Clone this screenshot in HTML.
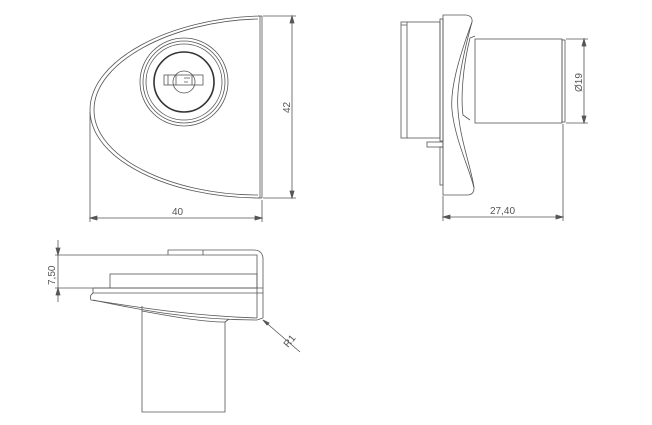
<!DOCTYPE html>
<html><head><meta charset="utf-8"><style>
html,body{margin:0;padding:0;background:#fff;}
svg{display:block}
text{font-family:"Liberation Sans",sans-serif;font-size:10px;fill:#555}
</style></head><body>
<svg width="652" height="425" viewBox="0 0 652 425" xmlns="http://www.w3.org/2000/svg">
<g fill="none" stroke="#555" stroke-width="0.8">
<!-- FRONT VIEW -->
<path d="M262,16 L262,198"/>
<path d="M260,16 L260,198"/>
<path d="M260,16 C170,18 90,60 90,110 C90,160 170,198 260,198"/>
<path d="M258,19 C172,21 94,62 94,110 C94,158 172,195 258,195"/>
<path d="M258,16 L262,16 M258,198 L262,198"/>
<circle cx="184" cy="82" r="44"/>
<circle cx="184" cy="82" r="41"/>
<circle cx="184" cy="82" r="38"/>
<circle cx="184" cy="82" r="30" stroke-width="1.6" stroke="#333"/>
<circle cx="184" cy="82" r="11"/>
<rect x="164" y="75" width="39" height="10"/>
<path d="M168,75 V85 M176,75 V85 M192,75 V85 M184,78 H190 M184,82 H188"/>
<!-- dims 42 / 40 -->
<path d="M263,16 H296 M263,198 H296 M292,16 V198"/>
<path d="M292,16 l-2,7 h4z M292,198 l-2,-7 h4z" fill="#555"/>
<path d="M90,112 V222 M262,200 V222 M90,218 H262"/>
<path d="M90,218 l7,-2 v4z M262,218 l-7,-2 v4z" fill="#555"/>

<!-- SIDE VIEW -->
<rect x="401" y="22" width="39" height="116"/>
<path d="M407,22 V138 M401,25 H407"/>
<rect x="440" y="19" width="3" height="122"/>
<path d="M443,15 L466,15 Q473,16 472,22 C458,60 450,90 452,110 C455,140 470,170 474,188 Q474,195 467,195 L443,195 Z"/>
<path d="M472,22 C463,55 456,90 458,110 C460,140 472,170 474,188"/>
<path d="M470,38 C462,70 461,100 463,115 L470,120"/>
<path d="M470,38 L475,36"/>
<rect x="427" y="142" width="16" height="5"/>
<rect x="440" y="147" width="3" height="38"/>
<rect x="475" y="39" width="87" height="84"/>
<rect x="562" y="40" width="3" height="82"/>
<path d="M566,39 H588 M566,123 H588 M584,39 V123"/>
<path d="M584,39 l-2,7 h4z M584,123 l-2,-7 h4z" fill="#555"/>
<path d="M443,196 V221 M563,124 V221 M443,217 H563"/>
<path d="M443,217 l7,-2 v4z M563,217 l-7,-2 v4z" fill="#555"/>

<!-- BOTTOM VIEW -->
<path d="M168,255 V250 H254 Q262,250 263,258 V318"/>
<path d="M203,250 V255"/>
<path d="M168,255 H257 V318"/>
<rect x="110" y="274" width="147" height="14"/>
<path d="M93,288 H263 M93,288 V293 H263"/>
<path d="M93,293 Q89,296 91,300 C130,306 190,316 257,318"/>
<path d="M93,300 C135,309 190,320 257,320 L263,318"/>
<path d="M142,306 V412 H225 V322 M142,311 C180,318 205,322 225,322"/>
<path d="M225,322 L229,319"/>
<path d="M58,240 V302 M55,255 H168 M55,288 H110"/>
<path d="M58,255 l-2,-7 h4z M58,288 l-2,7 h4z" fill="#555"/>
<path d="M263,320 L300,352"/>
<path d="M263,320 l6,3 l-2,2z" fill="#555"/>
</g>
<text x="0" y="0" transform="translate(290,113) rotate(-90)">42</text>
<text x="172" y="215">40</text>
<text x="0" y="0" transform="translate(582,92) rotate(-90)">Ø19</text>
<text x="490" y="214">27,40</text>
<text x="0" y="0" transform="translate(55,285) rotate(-90)">7,50</text>
<text x="0" y="0" transform="translate(288,348) rotate(-50)">R1</text>
</svg>
</body></html>
